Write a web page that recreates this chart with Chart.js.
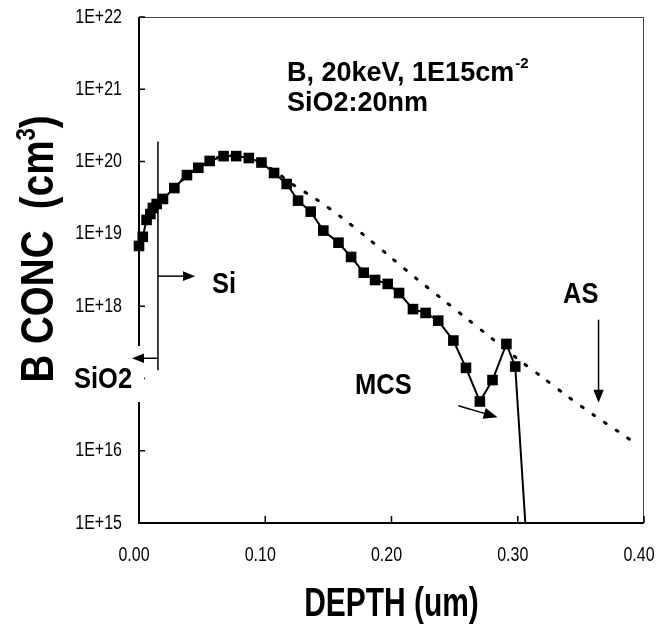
<!DOCTYPE html>
<html>
<head>
<meta charset="utf-8">
<script src="https://cdn.jsdelivr.net/npm/chart.js@4.4.0/dist/chart.umd.min.js"></script>
<style>
  body { margin: 0; background: #fff; }
  #wrap { width: 671px; height: 626px; }
</style>
</head>
<body>
<div id="wrap"><canvas id="profileChart" width="671" height="626"></canvas></div>
<script>
// MCS simulated profile (squares + line)
const mcs_depth = [0.000, 0.003, 0.006, 0.009, 0.011, 0.014, 0.019, 0.028, 0.038, 0.047, 0.056, 0.067, 0.077, 0.087, 0.097, 0.107, 0.117, 0.126, 0.136, 0.146, 0.158, 0.168, 0.178, 0.187, 0.197, 0.206, 0.217, 0.227, 0.237, 0.249, 0.259, 0.270, 0.280, 0.291, 0.298, 0.306];
const mcs_conc = [6.8e18, 9.1e18, 1.56e19, 1.88e19, 2.28e19, 2.59e19, 3.04e19, 4.3e19, 6.5e19, 8.2e19, 1.02e20, 1.19e20, 1.19e20, 1.12e20, 9.7e19, 6.95e19, 4.9e19, 2.88e19, 2.03e19, 1.11e19, 7.55e18, 4.79e18, 2.9e18, 2.3e18, 2.03e18, 1.52e18, 9.1e17, 8.05e17, 6.3e17, 3.34e17, 1.4e17, 4.8e16, 9.5e16, 3.0e17, 1.46e17, 1e15];

// AS profile (dotted)
const as_depth = [0.000, 0.005, 0.010, 0.020, 0.030, 0.040, 0.050, 0.060, 0.070, 0.080, 0.090, 0.100, 0.110, 0.120, 0.140, 0.160, 0.180, 0.200, 0.220, 0.240, 0.260, 0.280, 0.300, 0.320, 0.340, 0.360, 0.380, 0.394];
const as_conc = [6e18, 1.2e19, 1.95e19, 3.2e19, 4.8e19, 6.8e19, 8.7e19, 1.1e20, 1.2e20, 1.2e20, 1.1e20, 8.9e19, 6.9e19, 5.06e19, 3.04e19, 1.71e19, 9.06e18, 4.64e18, 2.38e18, 1.26e18, 6.65e17, 3.52e17, 1.86e17, 1.02e17, 5.55e16, 3.13e16, 1.82e16, 1.24e16];

// SiO2 / Si interface
const interface_depth = [0.015, 0.015];
const interface_conc = [1.9e20, 1.3e17];

const y_ticks = [1e15, 1e16, 1e17, 1e18, 1e19, 1e20, 1e21, 1e22];
const x_ticks = [0.0, 0.1, 0.2, 0.3, 0.4];

const sans = "'Liberation Sans', Arial, sans-serif";

function arrow(ctx, x1, y1, x2, y2, head) {
  const a = Math.atan2(y2 - y1, x2 - x1);
  ctx.beginPath();
  ctx.moveTo(x1, y1);
  ctx.lineTo(x2 - Math.cos(a) * head * 0.8, y2 - Math.sin(a) * head * 0.8);
  ctx.stroke();
  ctx.beginPath();
  ctx.moveTo(x2, y2);
  ctx.lineTo(x2 - head * Math.cos(a - 0.38), y2 - head * Math.sin(a - 0.38));
  ctx.lineTo(x2 - head * Math.cos(a + 0.38), y2 - head * Math.sin(a + 0.38));
  ctx.closePath();
  ctx.fill();
}

// squeezed text (the original uses a condensed face)
function txt(ctx, s, x, y, font, sx, align, base) {
  ctx.save();
  ctx.translate(x, y);
  ctx.scale(sx, 1);
  ctx.font = font;
  ctx.textAlign = align || 'left';
  ctx.textBaseline = base || 'alphabetic';
  ctx.fillText(s, 0, 0);
  ctx.restore();
}

const annotations = {
  id: 'annotations',
  afterDraw(chart) {
    const ctx = chart.ctx;
    const xs = chart.scales.x, ys = chart.scales.y;
    const a = chart.chartArea;
    ctx.save();
    ctx.strokeStyle = '#000';
    ctx.fillStyle = '#000';

    // frame
    ctx.lineWidth = 1;
    ctx.strokeStyle = '#444';
    ctx.beginPath();
    ctx.moveTo(a.left, a.top + 0.5); ctx.lineTo(a.right, a.top + 0.5);
    ctx.moveTo(a.right - 0.5, a.top); ctx.lineTo(a.right - 0.5, a.bottom);
    ctx.stroke();
    ctx.strokeStyle = '#000';
    ctx.lineWidth = 2;
    ctx.beginPath();
    ctx.moveTo(a.left, a.top); ctx.lineTo(a.left, a.bottom);
    ctx.lineTo(a.right, a.bottom);
    ctx.stroke();

    // inner tick marks + labels
    ctx.lineWidth = 1.5;
    ctx.beginPath();
    y_ticks.forEach(v => {
      const py = ys.getPixelForValue(v);
      ctx.moveTo(a.left, py); ctx.lineTo(a.left + 6, py);
    });
    x_ticks.forEach(v => {
      const px = xs.getPixelForValue(v);
      ctx.moveTo(px, a.bottom); ctx.lineTo(px, a.bottom - 7);
    });
    ctx.stroke();
    y_ticks.forEach(v => {
      txt(ctx, '1E+' + Math.round(Math.log10(v)), a.left - 17, ys.getPixelForValue(v), '20px ' + sans, 0.8, 'right', 'middle');
    });
    x_ticks.forEach(v => {
      txt(ctx, v.toFixed(2), xs.getPixelForValue(v) - 5, a.bottom + 32, '20px ' + sans, 0.8, 'center', 'middle');
    });

    // SiO2 label box covers the axis and the 1E+17 label
    ctx.fillStyle = '#fff';
    ctx.fillRect(70, 346, 74, 56);
    ctx.fillStyle = '#000';

    ctx.lineWidth = 1.5;
    const ix = xs.getPixelForValue(0.015);
    arrow(ctx, ix, ys.getPixelForValue(2.6e18), xs.getPixelForValue(0.0444), ys.getPixelForValue(2.6e18), 13);
    arrow(ctx, ix, ys.getPixelForValue(1.9e17), xs.getPixelForValue(-0.0056), ys.getPixelForValue(1.9e17), 13);
    arrow(ctx, xs.getPixelForValue(0.253), ys.getPixelForValue(4.2e16), xs.getPixelForValue(0.284), ys.getPixelForValue(2.9e16), 15);
    arrow(ctx, xs.getPixelForValue(0.364), ys.getPixelForValue(6.5e17), xs.getPixelForValue(0.364), ys.getPixelForValue(4.6e16), 14);

    // labels
    const lab = 'bold 30px ' + sans;
    txt(ctx, 'Si', 212, 293, lab, 0.85);
    txt(ctx, 'SiO2', 74, 388, lab, 0.85);
    txt(ctx, 'MCS', 355, 394, lab, 0.85);
    txt(ctx, 'AS', 563, 303, lab, 0.85);

    ctx.font = 'bold 27px ' + sans;
    ctx.textAlign = 'left';
    ctx.textBaseline = 'alphabetic';
    ctx.fillText('B, 20keV, 1E15cm', 287, 81);
    const w1 = ctx.measureText('B, 20keV, 1E15cm').width;
    ctx.font = 'bold 15px ' + sans;
    ctx.fillText('-2', 287 + w1 + 1, 68);
    ctx.font = 'bold 27px ' + sans;
    ctx.fillText('SiO2:20nm', 287, 111);

    // axis titles
    txt(ctx, 'DEPTH (um)', (a.left + a.right) / 2, 616, 'bold 41px ' + sans, 0.73, 'center');

    ctx.translate(53, 249);
    ctx.rotate(-Math.PI / 2);
    ctx.scale(0.82, 1);
    ctx.textAlign = 'left';
    const big = 'bold 47px ' + sans, small = 'bold 27px ' + sans;
    const main = 'B CONC  (cm';
    ctx.font = big;
    const wm = ctx.measureText(main).width;
    const wc = ctx.measureText(')').width;
    ctx.font = small;
    const ws = ctx.measureText('3').width;
    const total = wm + ws + wc;
    ctx.font = big;
    ctx.fillText(main, -total / 2, 0);
    ctx.font = small;
    ctx.fillText('3', -total / 2 + wm, -18);
    ctx.font = big;
    ctx.fillText(')', -total / 2 + wm + ws, 0);
    ctx.restore();
  }
};

const ctx = document.getElementById('profileChart').getContext('2d');
const chart = new Chart(ctx, {
  type: 'scatter',
  data: {
    datasets: [{
      data: as_depth.map((d, i) => ({ x: d, y: as_conc[i] })),
      showLine: true,
      borderColor: '#000',
      borderWidth: 3,
      borderDash: [2, 12],
      borderCapStyle: 'round',
      pointRadius: 0,
      tension: 0.3,
      order: 3
    }, {
      data: interface_depth.map((d, i) => ({ x: d, y: interface_conc[i] })),
      showLine: true,
      borderColor: '#000',
      borderWidth: 1.5,
      pointRadius: 0,
      order: 2
    }, {
      data: mcs_depth.map((d, i) => ({ x: d, y: mcs_conc[i] })),
      showLine: true,
      borderColor: '#000',
      borderWidth: 2,
      backgroundColor: '#000',
      pointStyle: 'rect',
      pointRadius: mcs_depth.map((d, i) => i === mcs_depth.length - 1 ? 0 : 7.5),
      pointBorderWidth: 0,
      clip: false,
      order: 1
    }]
  },
  options: {
    responsive: false,
    animation: false,
    layout: { padding: { top: 17, right: 27, left: 0, bottom: 0 } },
    plugins: {
      legend: { display: false },
      tooltip: { enabled: false }
    },
    scales: {
      x: {
        type: 'linear',
        min: 0,
        max: 0.4,
        afterBuildTicks: s => { s.ticks = x_ticks.map(v => ({ value: v })); },
        afterFit: s => { s.height = 103; },
        grid: { display: false, drawTicks: false },
        border: { display: false },
        ticks: { display: false }
      },
      y: {
        type: 'logarithmic',
        min: 1e15,
        max: 1e22,
        afterBuildTicks: s => { s.ticks = y_ticks.map(v => ({ value: v })); },
        afterFit: s => { s.width = 139; },
        grid: { display: false, drawTicks: false },
        border: { display: false },
        ticks: { display: false }
      }
    }
  },
  plugins: [annotations]
});
</script>
</body>
</html>
